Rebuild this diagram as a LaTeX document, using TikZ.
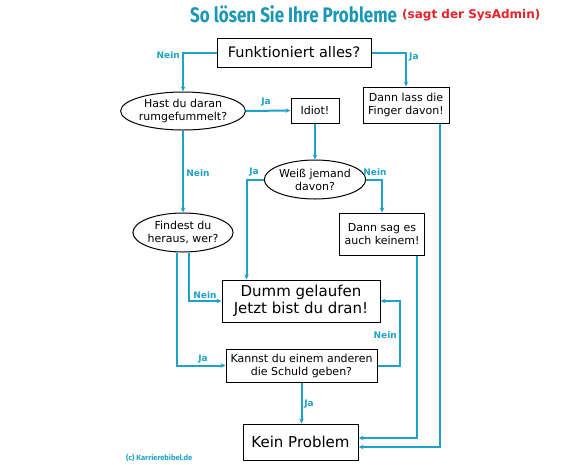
\documentclass[tikz,border=0pt]{standalone}
\usepackage{fontspec}
\setmainfont{DejaVu Sans}
\newfontfamily\titlefont{Fira Sans}
\usetikzlibrary{shapes.geometric,arrows.meta,calc}
\definecolor{cy}{HTML}{1EA3C8}
\definecolor{tl}{HTML}{1A97B5}
\definecolor{rd}{HTML}{E8222A}
\tikzset{
  box/.style={draw=black, line width=1pt, rectangle, inner sep=0pt, align=center},
  oval/.style={draw=black, line width=1pt, ellipse, inner sep=0pt, align=center},
  small/.style={font=\fontsize{11}{13}\selectfont},
  big/.style={font=\fontsize{15}{17.5}\selectfont},
  arr/.style={draw=cy, line width=2pt, -{Stealth[length=5pt,width=4.5pt]}},
  lab/.style={text=cy, font=\bfseries\fontsize{9}{10}\selectfont, inner sep=0pt}
}
\begin{document}
\begin{tikzpicture}[x=1pt,y=-1pt]
\useasboundingbox[fill=white] (0,0) rectangle (580,464);
% title
\node[anchor=west, text=tl, font=\titlefont\bfseries\fontsize{21}{21}\selectfont, inner sep=0pt] (title) at (190,14) {\scalebox{0.81}[1]{So lösen Sie Ihre Probleme}};
\node[anchor=west, text=rd, font=\bfseries\fontsize{12}{13}\selectfont, inner sep=0pt] (sub) at (402,15) {(sagt der SysAdmin)};
% nodes
\node[box, font=\fontsize{14.5}{17}\selectfont, minimum width=154, minimum height=29] (fa) at (294,52.5) {Funktioniert alles?};
\node[oval, small, minimum width=110, minimum height=38] (hast) at (183,111) {Hast du daran\\rumgefummelt?};
\node[box, small, minimum width=48, minimum height=25] (idiot) at (315,110.5) {Idiot!};
\node[box, small, minimum width=86, minimum height=36] (lass) at (406,105) {Dann lass die\\Finger davon!};
\node[oval, small, minimum width=92, minimum height=39] (weiss) at (315,179.5) {Weiß jemand\\davon?};
\node[box, small, minimum width=85, minimum height=42] (sag) at (382,234) {Dann sag es\\auch keinem!};
\node[oval, small, minimum width=97, minimum height=39] (find) at (183,232.5) {Findest du\\heraus, wer?};
\node[box, big, minimum width=158, minimum height=42] (dumm) at (301,301) {Dumm gelaufen\\Jetzt bist du dran!};
\node[box, small, minimum width=151, minimum height=33] (kannst) at (301.5,365.5) {Kannst du einem anderen\\die Schuld geben?};
\node[box, big, minimum width=115, minimum height=36] (kein) at (300.5,442) {Kein Problem};
% connectors
\draw[arr] (fa.west) -| (hast.north);
\node[lab, anchor=east] (l1) at (180,55) {Nein};
\draw[arr] (fa.east) -| (lass.north);
\node[lab, anchor=west] (l2) at (409,57) {Ja};
\draw[arr] (hast.east) -- (idiot.west);
\node[lab] (l3) at (266,102) {Ja};
\draw[arr] (idiot.south) -- (weiss.north);
\draw[arr] (weiss.west) -| ($(dumm.north west)+(25,0)$);
\node[lab] (l4) at (254,172) {Ja};
\draw[arr] (weiss.east) -| (sag.north);
\node[lab] (l5) at (375,172) {Nein};
\draw[arr] (hast.south) -- (find.north);
\node[lab] (l6) at (198,173) {Nein};
\draw[arr] ($(find.south)+(6,0)$) |- (dumm.west);
\node[lab] (l7) at (205,295) {Nein};
\draw[arr] ($(find.south)+(-6,0)$) |- (kannst.west);
\node[lab] (l8) at (203,359) {Ja};
\draw[arr] (kannst.east) -- ++(22,0) |- (dumm.east);
\node[lab, anchor=east] (l9) at (397,335) {Nein};
\draw[arr] (kannst.south) -- (kannst.south |- kein.north);
\node[lab] (l10) at (309,404) {Ja};
\draw[arr] ($(sag.south east)+(-8,0)$) |- ($(kein.east)+(0,-4)$);
\draw[arr] ($(lass.south east)+(-10,0)$) |- ($(kein.east)+(0,5)$);
% copyright
\node[anchor=west, text=cy, font=\titlefont\bfseries\fontsize{7.5}{8}\selectfont, inner sep=0pt] (copy) at (126,458) {(c) Karrierebibel.de};
\end{tikzpicture}
\end{document}
